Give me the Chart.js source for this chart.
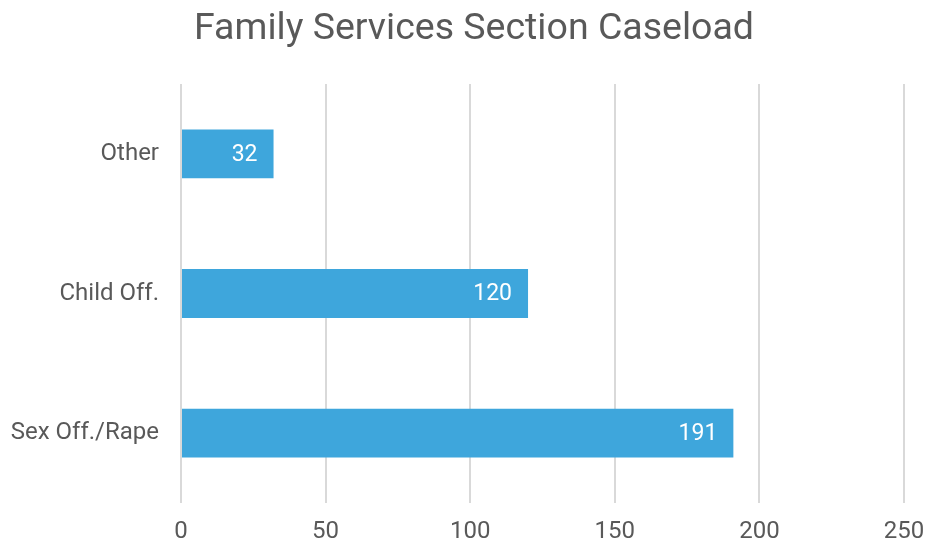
<!DOCTYPE html>
<html>
<head>
<meta charset="utf-8">
<script src="https://cdn.jsdelivr.net/npm/chart.js@4"></script>
<style>
  html, body { margin: 0; padding: 0; background: #fff; }
  #wrap { width: 926px; height: 544px; }
</style>
</head>
<body>
<div id="wrap"><canvas id="chart" width="926" height="544"></canvas></div>
<script>
// chart data
const categories = ['Other', 'Child Off.', 'Sex Off./Rape'];
const caseload = [32, 120, 191];
const xTicks = [0, 50, 100, 150, 200, 250];
const chartTitle = 'Family Services Section Caseload';

const TEXT = '#595959';
const BAR = '#3ea6dc';
const GRID = '#d9d9d9';

// draws the value inside the end of each bar
const barValues = {
  id: 'barValues',
  afterDatasetsDraw(chart) {
    const ctx = chart.ctx;
    ctx.save();
    ctx.font = '23px Roboto';
    ctx.fillStyle = '#ffffff';
    ctx.textAlign = 'right';
    ctx.textBaseline = 'middle';
    chart.getDatasetMeta(0).data.forEach((bar, i) => {
      ctx.fillText(String(caseload[i]), bar.x - 16, bar.y + 1);
    });
    ctx.restore();
  }
};

// title sits a little right of the canvas centre in the original
const titleText = {
  id: 'titleText',
  afterDraw(chart) {
    const ctx = chart.ctx;
    ctx.save();
    ctx.font = '37.5px Roboto';
    ctx.fillStyle = TEXT;
    ctx.textAlign = 'center';
    ctx.textBaseline = 'middle';
    ctx.fillText(chartTitle, 474, 30);
    ctx.restore();
  }
};

new Chart(document.getElementById('chart'), {
  type: 'bar',
  data: {
    labels: categories,
    datasets: [{
      data: caseload,
      backgroundColor: BAR,
      borderWidth: 0,
      barPercentage: 0.7,
      categoryPercentage: 0.5
    }]
  },
  options: {
    indexAxis: 'y',
    responsive: false,
    animation: false,
    layout: { padding: { left: 0, right: 22, top: 84, bottom: 0 } },
    plugins: {
      legend: { display: false },
      tooltip: { enabled: false },
      title: { display: false }
    },
    scales: {
      x: {
        min: 0,
        max: 250,
        afterBuildTicks(axis) {
          axis.ticks = xTicks.map(v => ({ value: v }));
        },
        afterFit(axis) {
          axis.height = 41;
          axis.paddingLeft = 0;
          axis.paddingRight = 0;
        },
        grid: { color: GRID, lineWidth: 2, drawTicks: false },
        border: { display: false },
        ticks: {
          color: TEXT,
          font: { family: 'Roboto', size: 24 },
          padding: 15
        }
      },
      y: {
        afterFit(axis) { axis.width = 181; },
        grid: { display: false, drawTicks: false },
        border: { display: false },
        ticks: {
          color: TEXT,
          font: { family: 'Roboto', size: 24 },
          padding: 22
        }
      }
    }
  },
  plugins: [barValues, titleText]
});
</script>
</body>
</html>
